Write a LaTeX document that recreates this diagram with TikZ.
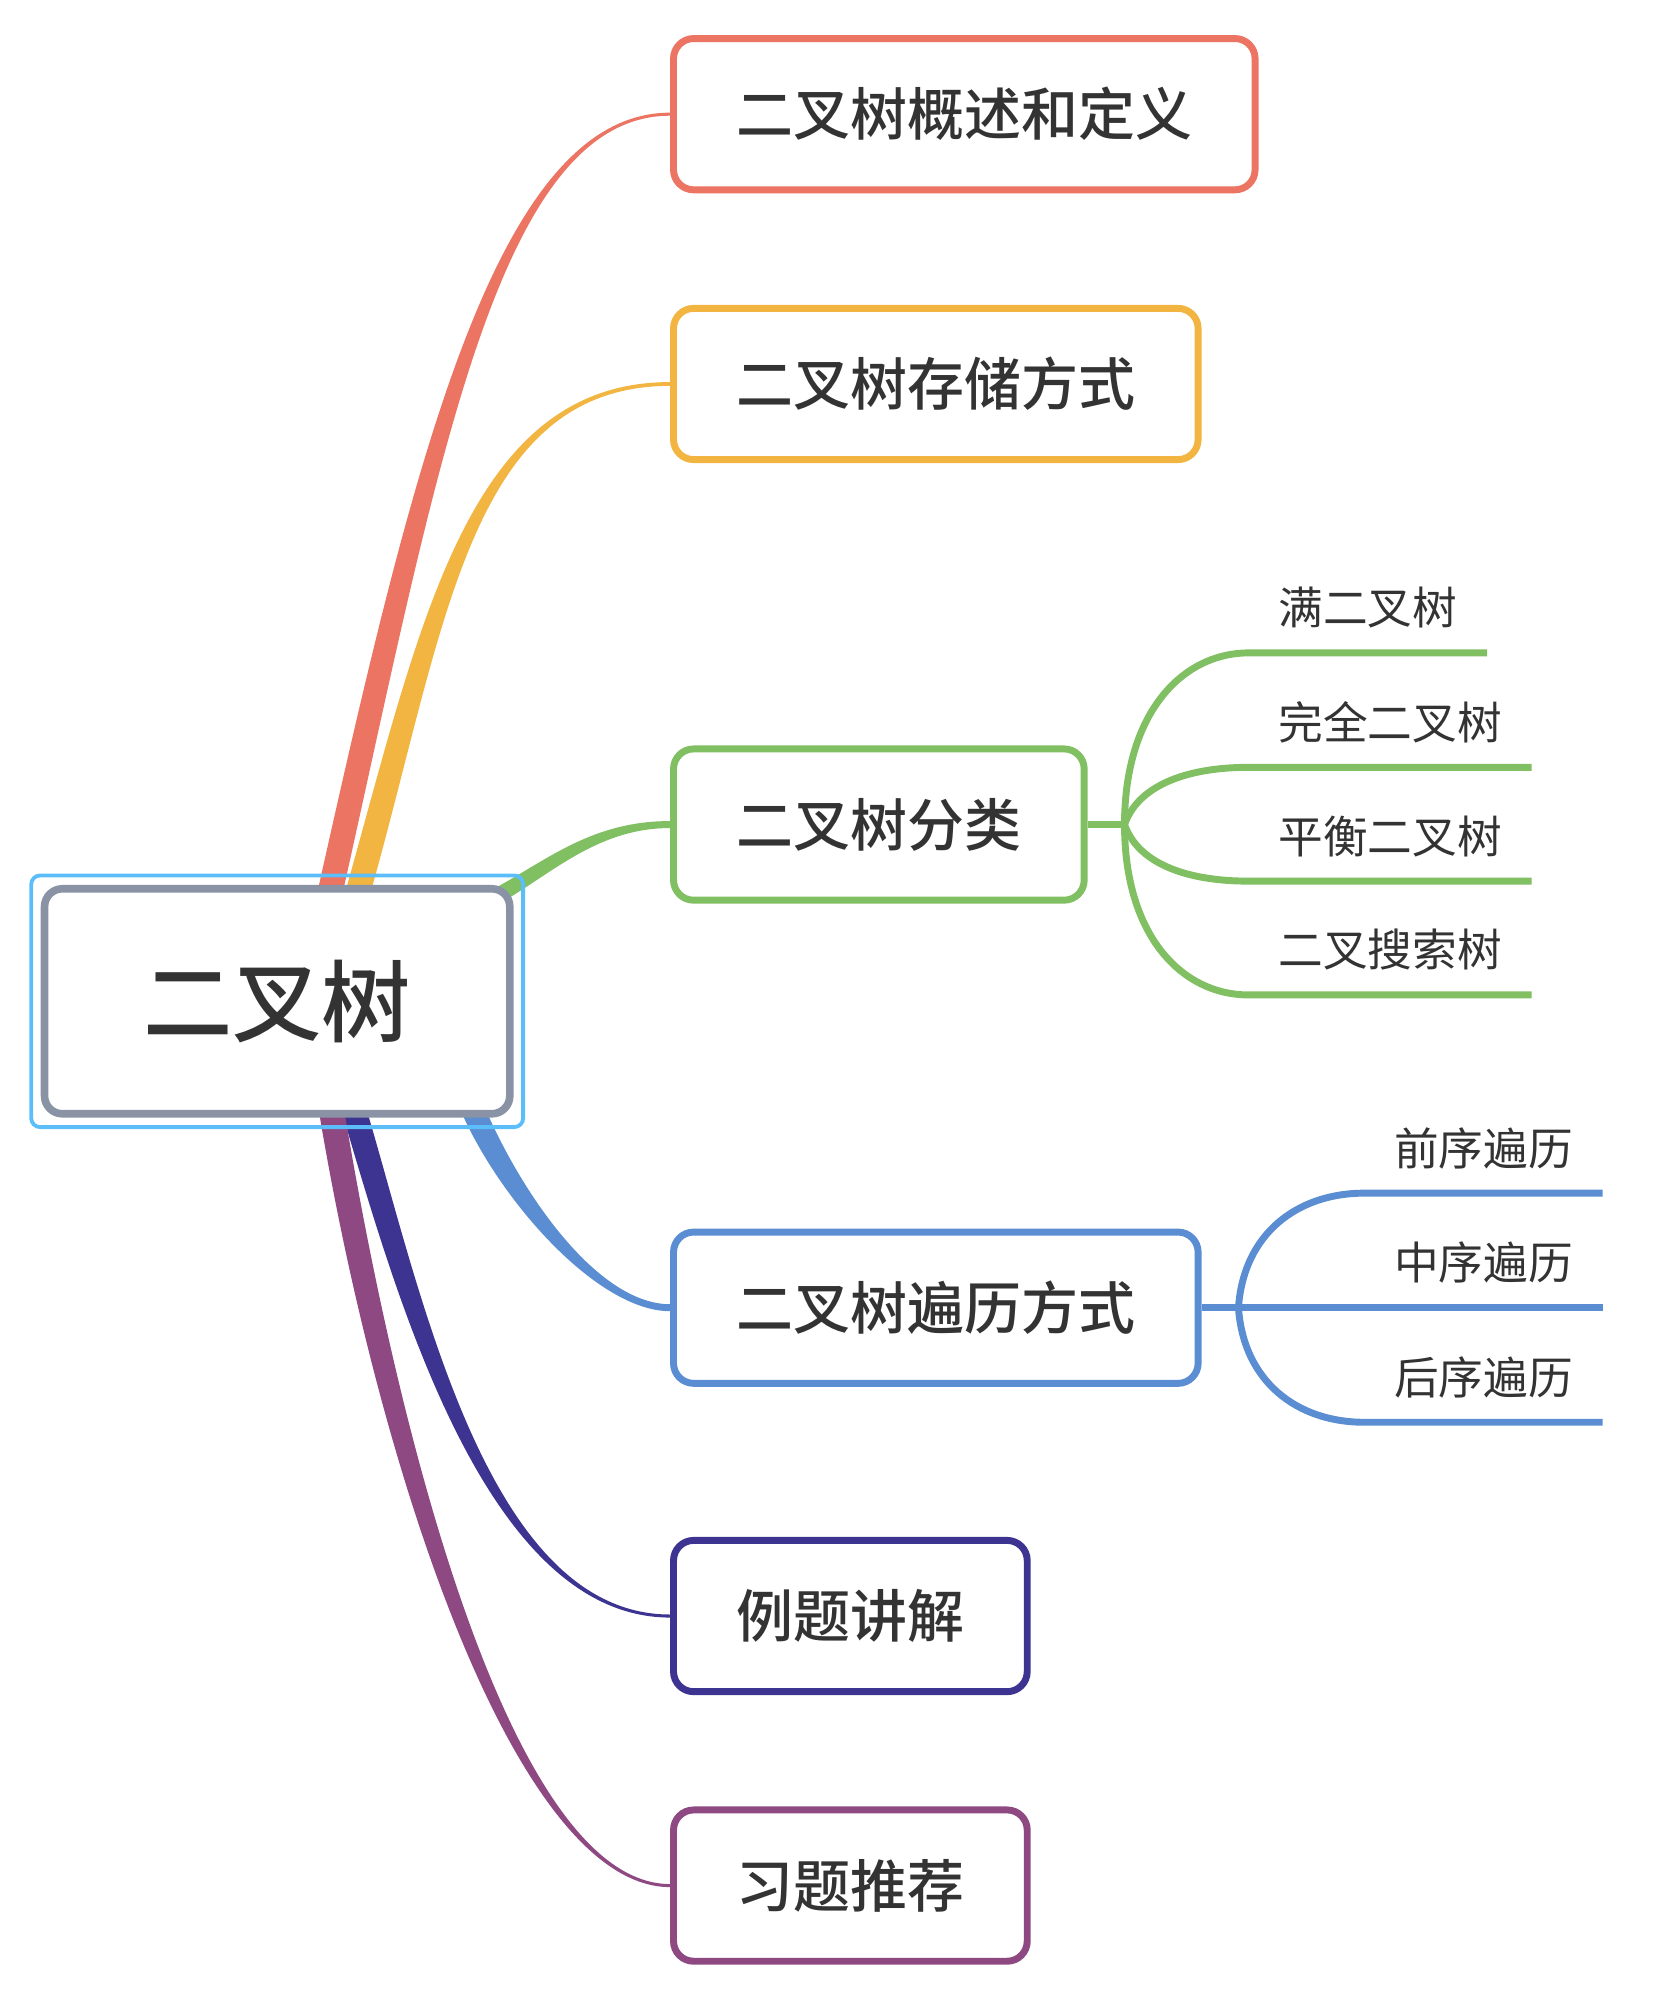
\documentclass[tikz,border=0pt]{standalone}
\usepackage{fontspec}
\newfontfamily\cjk{Noto Sans CJK SC}[BoldFont={Noto Sans CJK SC Medium}]
\usetikzlibrary{calc,fit,backgrounds}
\definecolor{cRed}{HTML}{EC7462}
\definecolor{cOrange}{HTML}{F2B541}
\definecolor{cGreen}{HTML}{81BF63}
\definecolor{cBlue}{HTML}{5B8DD3}
\definecolor{cNavy}{HTML}{3D3491}
\definecolor{cPurple}{HTML}{8E4982}
\definecolor{cGray}{HTML}{8A93A5}
\definecolor{cSel}{HTML}{5BBDF9}
\definecolor{txt}{HTML}{333333}
\begin{document}
\begin{tikzpicture}[x=0.02cm,y=-0.02cm,
  topic/.style={draw,line width=3.1pt,rounded corners=9pt,fill=white,anchor=west,minimum height=2.38cm,inner xsep=0.99cm,text=txt,font=\cjk\bfseries\fontsize{25.5}{30}\selectfont},
  leaf/.style={anchor=south west,inner xsep=0.47cm,inner ysep=0.44cm,outer sep=0pt,text depth=0pt,text=txt,font=\cjk\fontsize{20}{24}\selectfont},
  twig/.style={line width=3.1pt},
  sel/.style={draw=cSel,line width=1.7pt,rounded corners=4pt,inner sep=0.15cm}]
\useasboundingbox (0,0) rectangle (1300,1573);
\path
(218,787.5) node [draw=cGray,line width=3.4pt,rounded corners=8pt,fill=white,minimum width=7.32cm,minimum height=3.54cm,text=txt,font=\cjk\bfseries\fontsize{40}{48}\selectfont] (root) {二叉树}
(527,89.8) node [topic,draw=cRed] (t1) {二叉树概述和定义}
(527,302) node [topic,draw=cOrange] (t2) {二叉树存储方式}
(527,648.5) node [topic,draw=cGreen] (t3) {二叉树分类}
(527,1028.5) node [topic,draw=cBlue] (t4) {二叉树遍历方式}
(527,1271) node [topic,draw=cNavy] (t5) {例题讲解}
(527,1483) node [topic,draw=cPurple] (t6) {习题推荐}
;
\node [sel,fit=(root)] (rootsel) {};
% main branches, thick at the root
\begin{scope}[on background layer]
\fill[cRed] ($(root.north)+(32,4)$) .. controls +(75,-336) and +(-137,0) .. ($(t1.west)+(0,-1.2)$) -- ($(t1.west)+(0,1.2)$) .. controls +(-135,0) and +(75,-336) .. ($(root.north)+(52,4)$) -- cycle;
\fill[cOrange] ($(root.north)+(54,4)$) .. controls +(59,-210) and +(-159,0) .. ($(t2.west)+(0,-1.5)$) -- ($(t2.west)+(0,1.5)$) .. controls +(-157,0) and +(59,-210) .. ($(root.north)+(74,4)$) -- cycle;
\fill[cGreen] ($(root.north east)+(-12,1)$) .. controls +(40,-22) and +(-60,0) .. ($(t3.west)+(0,-2.75)$) -- ($(t3.west)+(0,2.75)$) .. controls +(-58,0) and +(40,-22) .. ($(root.north east)+(-12,15)$) -- cycle;
\fill[cBlue] ($(root.south)+(145,-4)$) .. controls +(32,72) and +(-56,0) .. ($(t4.west)+(0,2.75)$) -- ($(t4.west)+(0,-2.75)$) .. controls +(-54,0) and +(32,72) .. ($(root.south)+(165,-4)$) -- cycle;
\fill[cNavy] ($(root.south)+(51,-4)$) .. controls +(43,145) and +(-145,0) .. ($(t5.west)+(0,1.2)$) -- ($(t5.west)+(0,-1.2)$) .. controls +(-143,0) and +(43,145) .. ($(root.south)+(71,-4)$) -- cycle;
\fill[cPurple] ($(root.south)+(33,-4)$) .. controls +(48,288) and +(-120,0) .. ($(t6.west)+(0,1.2)$) -- ($(t6.west)+(0,-1.2)$) .. controls +(-118,0) and +(48,288) .. ($(root.south)+(53,-4)$) -- cycle;
\end{scope}
% kinds of trees
\coordinate (f3) at ($(t3.east)+(29,0)$);
\path
(982,513.5) node [leaf] (g1) {满二叉树}
(982,603.5) node [leaf] (g2) {完全二叉树}
(982,693) node [leaf] (g3) {平衡二叉树}
(982,782.5) node [leaf] (g4) {二叉搜索树}
;
\draw[twig,cGreen] (t3.east) -- (f3);
\draw[twig,cGreen] (f3) .. controls +(0,-88) and +(-52,0) .. (g1.south west) -- (g1.south east);
\draw[twig,cGreen] (f3) .. controls +(10,-29) and +(-52,0) .. (g2.south west) -- (g2.south east);
\draw[twig,cGreen] (f3) .. controls +(10,29) and +(-52,0) .. (g3.south west) -- (g3.south east);
\draw[twig,cGreen] (f3) .. controls +(0,88) and +(-52,0) .. (g4.south west) -- (g4.south east);
% traversals
\coordinate (f4) at ($(t4.east)+(29,0)$);
\path
(1073,938.4) node [leaf] (b1) {前序遍历}
(1073,1028.5) node [leaf] (b2) {中序遍历}
(1073,1118.6) node [leaf] (b3) {后序遍历}
;
\draw[twig,cBlue] (t4.east) -- (f4);
\draw[twig,cBlue] (f4) .. controls +(4,-58) and +(-53,0) .. (b1.south west) -- (b1.south east);
\draw[twig,cBlue] (f4) -- (b2.south west) -- (b2.south east);
\draw[twig,cBlue] (f4) .. controls +(4,58) and +(-53,0) .. (b3.south west) -- (b3.south east);
\end{tikzpicture}
\end{document}
